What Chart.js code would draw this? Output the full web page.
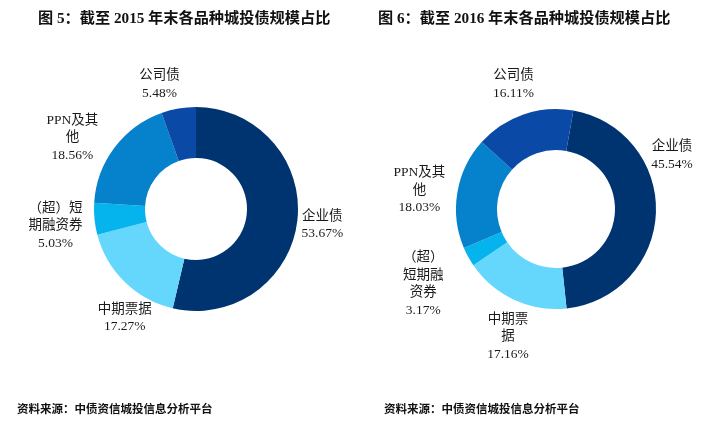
<!DOCTYPE html>
<html>
<head>
<meta charset="utf-8">
<script src="https://cdn.jsdelivr.net/npm/chart.js@4.4.1/dist/chart.umd.min.js"></script>
<style>
  body { margin: 0; background: #fff; }
  #page { position: relative; width: 714px; height: 425px; overflow: hidden; }
  canvas { position: absolute; top: 0; }
  .title {
    position: absolute; top: 5px; height: 20px; line-height: 20px; white-space: nowrap;
    font: bold 15.2px "Liberation Serif", "Noto Sans CJK SC", serif; color: #111;
  }
  .source {
    position: absolute; top: 400px; height: 16px; line-height: 16px; white-space: nowrap;
    font: bold 11.5px "Noto Sans CJK SC", sans-serif; color: #111;
  }
</style>
</head>
<body>
<div id="page">
  <canvas id="chart2015" width="357" height="425" style="left:0"></canvas>
  <canvas id="chart2016" width="357" height="425" style="left:357px"></canvas>
  <div class="title" style="left:38px">图 5：截至 2015 年末各品种城投债规模占比</div>
  <div class="title" style="left:378px">图 6：截至 2016 年末各品种城投债规模占比</div>
  <div class="source" style="left:17px">资料来源：中债资信城投信息分析平台</div>
  <div class="source" style="left:384px">资料来源：中债资信城投信息分析平台</div>
</div>
<script>
// Data (share of outstanding bonds, %)
const categories = ['企业债', '中期票据', '（超）短期融资券', 'PPN及其他', '公司债'];
const shares2015 = [53.67, 17.27, 5.03, 18.56, 5.48];
const shares2016 = [45.54, 17.16, 3.17, 18.03, 16.11];

// Label text as wrapped in the picture
const labelLines2015 = [['企业债'], ['中期票据'], ['（超）短', '期融资券'], ['PPN及其', '他'], ['公司债']];
const labelLines2016 = [['企业债'], ['中期票', '据'], ['（超）', '短期融', '资券'], ['PPN及其', '他'], ['公司债']];

const sliceColors = ['#003470', '#66d7fc', '#05b4ec', '#0681cb', '#0a49a6'];

// Offset of each label block from the arc's outer mid point
const nudges2015 = [[25, 4], [0, 36], [-39, 7], [-42, -10], [-19, -24]];
const nudges2016 = [[16, -57], [-6, 37], [-45, 27], [-38, -2], [-10, -30]];

const outsideLabels = {
    id: 'outsideLabels',
    afterDatasetsDraw(chart, args, opts) {
        const ctx = chart.ctx;
        const meta = chart.getDatasetMeta(0);
        const values = chart.data.datasets[0].data;
        const lh = 17.5;
        ctx.save();
        ctx.font = '13.5px "Liberation Serif", "Noto Sans CJK SC", serif';
        ctx.fillStyle = '#1a1a1a';
        ctx.textAlign = 'center';
        ctx.textBaseline = 'middle';
        meta.data.forEach((arc, i) => {
            const p = arc.getProps(['x', 'y', 'startAngle', 'endAngle', 'outerRadius'], true);
            const mid = (p.startAngle + p.endAngle) / 2;
            const cx = p.x + Math.cos(mid) * p.outerRadius + opts.nudges[i][0];
            const cy = p.y + Math.sin(mid) * p.outerRadius + opts.nudges[i][1];
            const lines = opts.lines[i].concat([values[i].toFixed(2) + '%']);
            lines.forEach((txt, k) => {
                ctx.fillText(txt, cx, cy + (k - (lines.length - 1) / 2) * lh);
            });
        });
        ctx.restore();
    }
};

function makeDoughnut(id, values, cutout, rotation, padding, lines, nudges) {
    const ctx = document.getElementById(id).getContext('2d');
    return new Chart(ctx, {
        type: 'doughnut',
        data: {
            labels: categories,
            datasets: [{
                data: values,
                backgroundColor: sliceColors,
                borderWidth: 0
            }]
        },
        options: {
            responsive: false,
            animation: false,
            cutout: cutout,
            rotation: rotation,
            layout: { padding: padding },
            plugins: {
                legend: { display: false },
                tooltip: { enabled: false },
                outsideLabels: { lines: lines, nudges: nudges }
            }
        },
        plugins: [outsideLabels]
    });
}

makeDoughnut('chart2015', shares2015, '50%', 0,
    { left: 94, right: 59, top: 107, bottom: 114 }, labelLines2015, nudges2015);
makeDoughnut('chart2016', shares2016, '59%', 10,
    { left: 99, right: 58, top: 109, bottom: 116 }, labelLines2016, nudges2016);
</script>
</body>
</html>
